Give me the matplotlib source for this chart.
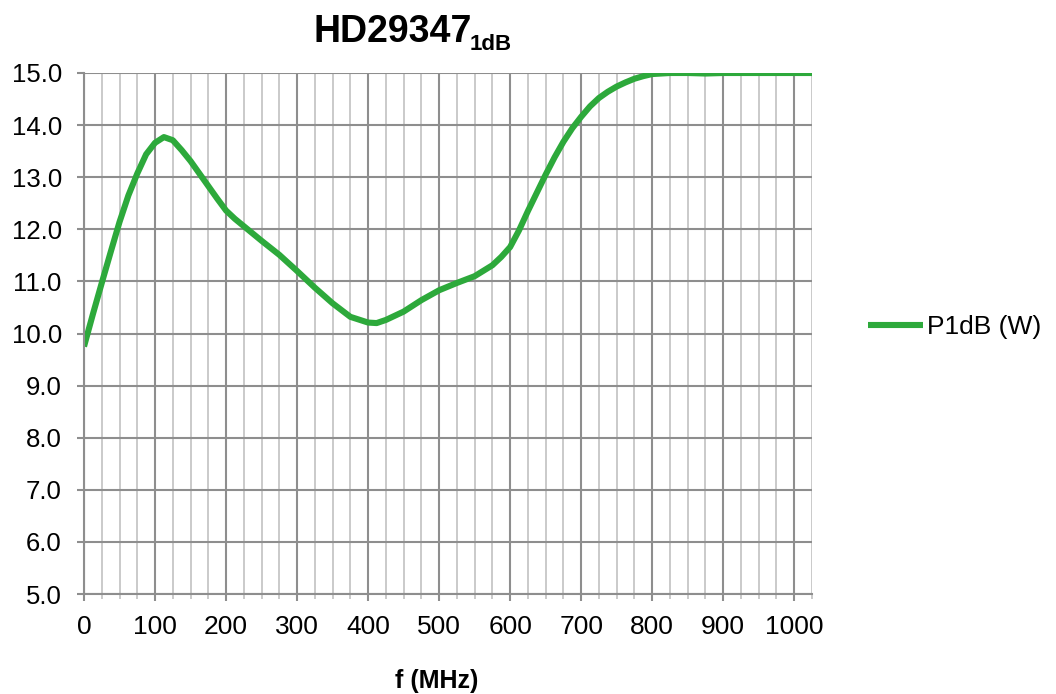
import matplotlib
matplotlib.use("Agg")
import matplotlib.pyplot as plt
from matplotlib.ticker import MultipleLocator, FormatStrFormatter

plt.rcParams["font.family"] = ["Liberation Sans", "DejaVu Sans"]

# values
freq = [0, 12.5, 25, 37.5, 50, 62.5, 75, 87.5, 100, 112.5, 125, 137.5, 150,
        162.5, 175, 187.5, 200, 212.5, 225, 250, 275, 300, 325, 350, 375,
        400, 412, 425, 450, 475, 500, 525, 550, 575, 587.5, 600, 612.5, 625,
        637.5, 650, 662.5, 675, 687.5, 700, 712.5, 725, 737.5, 750, 762.5,
        775, 787.5, 800, 825, 850, 875, 900, 950, 1000, 1050]
p1db = [9.75, 10.37, 10.97, 11.56, 12.14, 12.65, 13.07, 13.44, 13.66, 13.77,
        13.71, 13.52, 13.31, 13.07, 12.83, 12.59, 12.36, 12.2, 12.06, 11.78,
        11.51, 11.2, 10.88, 10.58, 10.32, 10.21, 10.2, 10.26, 10.42, 10.64,
        10.83, 10.97, 11.1, 11.31, 11.47, 11.66, 11.98, 12.35, 12.7, 13.05,
        13.38, 13.68, 13.94, 14.16, 14.36, 14.52, 14.64, 14.74, 14.82, 14.89,
        14.94, 14.98, 15.0, 15.0, 14.99, 15.0, 15.0, 15.0, 15.0]
series_name = "P1dB (W)"

green = "#2DA93B"
major_grey = "#8E8E8E"
minor_grey = "#C6C6C6"

fig = plt.figure(figsize=(10.56, 6.94), dpi=100)
ax = fig.add_axes([84 / 1056, 1 - 594 / 694, 728 / 1056, 521 / 694])

ax.plot(freq, p1db, color=green, lw=4.4, label=series_name,
        solid_joinstyle="round", solid_capstyle="butt")

ax.set_xlim(0, 1025)
ax.set_ylim(5, 15)
ax.xaxis.set_major_locator(MultipleLocator(100))
ax.xaxis.set_minor_locator(MultipleLocator(25))
ax.yaxis.set_major_locator(MultipleLocator(1))
ax.yaxis.set_major_formatter(FormatStrFormatter("%.1f"))

ax.grid(True, which="major", axis="both", color=major_grey, lw=1.5, zorder=0)
ax.grid(True, which="minor", axis="x", color=minor_grey, lw=1.3, zorder=0)
ax.set_axisbelow(True)

for s in ["top", "right"]:
    ax.spines[s].set_visible(False)
for s in ["left", "bottom"]:
    ax.spines[s].set_color(major_grey)
    ax.spines[s].set_linewidth(1.5)

ax.tick_params(axis="y", which="major", length=5, width=1.5, color=major_grey,
               pad=11, labelsize=18.5)
ax.tick_params(axis="x", which="major", length=5, width=1.5, color=major_grey,
               pad=10, labelsize=19)
ax.tick_params(axis="x", which="minor", length=3.5, width=1.3, color=minor_grey)

fig.text(313 / 1056, 1 - 42 / 694, "HD29347", fontsize=27, fontweight="bold",
         ha="left", va="baseline")
fig.text(470 / 1056, 1 - 50 / 694, "1dB", fontsize=16, fontweight="bold",
         ha="left", va="baseline")
fig.text(437 / 1056, 1 - 688 / 694, "f (MHz)", fontsize=18, fontweight="bold",
         ha="center", va="baseline")

ax.legend(loc="center left", bbox_to_anchor=(868 / 1056, 1 - 327 / 694),
          bbox_transform=fig.transFigure, frameon=False, fontsize=19,
          handlelength=2.1, handletextpad=0.15, borderpad=0, borderaxespad=0)

fig.savefig("out.png", dpi=100)
